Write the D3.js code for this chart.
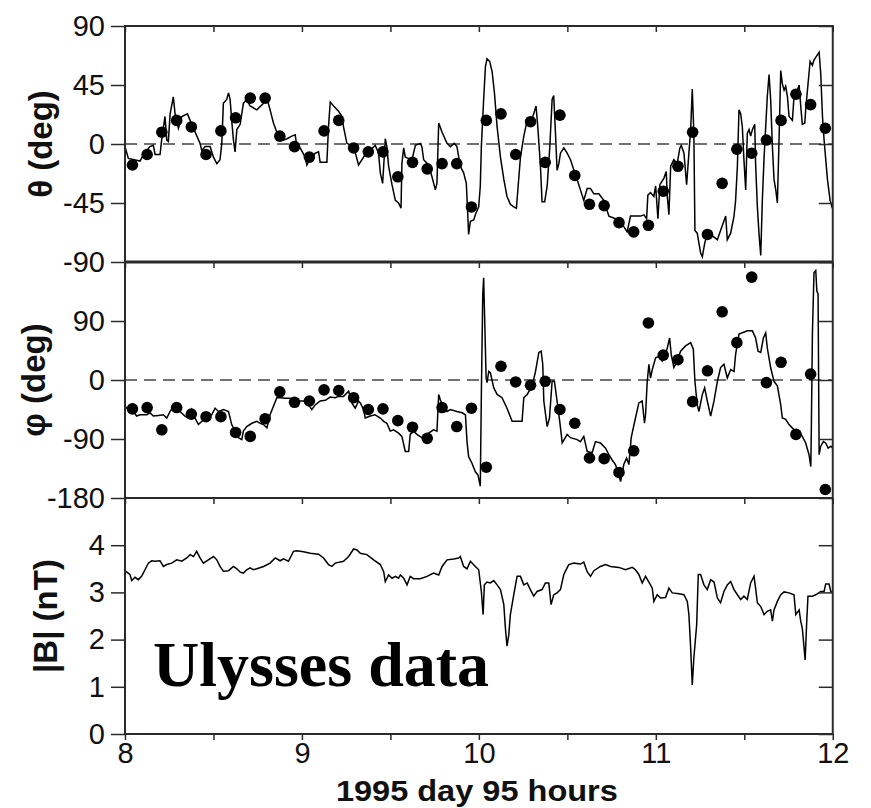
<!DOCTYPE html>
<html>
<head>
<meta charset="utf-8">
<script src="https://cdn.jsdelivr.net/npm/d3@7"></script>
<style>
  body { margin: 0; background: #fff; }
  svg { display: block; }
</style>
</head>
<body>
<svg id="chart" width="871" height="808"></svg>
<script>
// Ulysses magnetic field, 1995 day 95, 08-12 h
// High-resolution traces: [hour, value]
const thetaTrace = [
  [8.000,-2],[8.019,-11],[8.085,-13],[8.104,-8],[8.141,-2],[8.160,-1],[8.170,-8],[8.198,-8],[8.207,3],[8.226,21],
  [8.236,3],[8.245,2],[8.255,23],[8.273,36],[8.283,23],[8.302,12],[8.321,21],[8.353,23],[8.368,18],[8.387,12],
  [8.424,0.5],[8.434,-5],[8.453,-2],[8.481,-2],[8.500,-10],[8.519,-15],[8.537,-12],[8.547,0.5],[8.556,31],[8.575,34],
  [8.585,39],[8.594,34],[8.603,18],[8.613,3],[8.622,-6],[8.632,11],[8.651,15],[8.669,31],[8.688,34],[8.707,29],
  [8.745,26],[8.783,31],[8.802,35],[8.820,26],[8.839,16],[8.858,9],[8.877,6],[8.896,3],[8.915,4],[8.943,6],
  [8.962,7],[8.971,-2],[8.990,-3],[9.018,-10],[9.028,-16],[9.047,-11],[9.075,-7],[9.094,-6],[9.103,-14],[9.141,-14],
  [9.150,13],[9.160,32],[9.179,29],[9.207,25],[9.226,21],[9.235,13],[9.254,0.5],[9.292,-2],[9.320,-16],
  [9.358,-8],[9.386,-5],[9.414,-1],[9.433,-7],[9.443,-22],[9.456,-30],[9.462,-17],[9.471,4],[9.480,-2],[9.490,-17],
  [9.509,-31],[9.528,-43],[9.546,-45],[9.560,-49],[9.565,-15],[9.575,-3],[9.584,-10],[9.603,-11],[9.622,-12],[9.641,-1],
  [9.669,0.5],[9.678,-2],[9.688,-12],[9.716,-16],[9.735,-25],[9.754,-35],[9.763,-30],[9.773,16],[9.792,9],[9.820,0.5],
  [9.839,-2],[9.861,0.5],[9.876,-2],[9.895,-17],[9.914,-22],[9.929,-30],[9.937,-53],[9.942,-69],[9.952,-59],[9.971,-58],
  [9.980,-54],[9.999,-48],[10.008,-32],[10.014,-2],[10.027,34],[10.037,59],[10.046,65],[10.061,63],[10.075,55],[10.088,39],
  [10.103,13],[10.122,-10],[10.141,-27],[10.159,-40],[10.178,-46],[10.197,-48],[10.212,-49],[10.222,-32],[10.235,-10],[10.254,6],
  [10.273,18],[10.291,16],[10.310,23],[10.323,29],[10.333,13],[10.348,-17],[10.357,-44],[10.372,-44],[10.386,-32],[10.401,-2],
  [10.414,34],[10.423,37],[10.433,8],[10.442,-20],[10.452,-15],[10.461,-7],[10.480,-3],[10.499,-7],[10.518,-12],[10.537,-20],
  [10.555,-27],[10.574,-35],[10.593,-43],[10.612,-34],[10.631,-34],[10.650,-38],[10.678,-38],[10.706,-43],[10.735,-55],
  [10.772,-57],[10.801,-59],[10.819,-63],[10.838,-67],[10.857,-55],[10.885,-55],[10.914,-55],[10.933,-54],[10.948,-57],[10.955,-39],
  [10.970,-37],[10.989,-40],[10.999,-32],[11.012,-57],[11.023,-31],[11.046,-26],[11.059,-21],[11.065,-40],[11.074,-54],[11.084,-17],
  [11.102,-12],[11.121,-15],[11.136,-3],[11.144,-1],[11.159,-7],[11.174,-31],[11.187,-7],[11.197,11],[11.206,42],[11.215,8],
  [11.221,-66],[11.234,-68],[11.253,-83],[11.263,-86],[11.276,-76],[11.291,-68],[11.310,-69],[11.329,-71],[11.348,-73],[11.366,-66],
  [11.395,-55],[11.404,-73],[11.423,-68],[11.442,-55],[11.451,-43],[11.461,-17],[11.470,26],[11.480,23],[11.489,13],[11.498,-12],
  [11.508,-35],[11.517,8],[11.527,11],[11.536,6],[11.546,11],[11.559,15],[11.564,-15],[11.574,-48],[11.583,-68],[11.593,-85],
  [11.602,-43],[11.612,-10],[11.630,36],[11.640,53],[11.649,34],[11.659,-2],[11.668,-27],[11.678,-35],[11.687,-45],[11.696,0.5],
  [11.706,56],[11.715,46],[11.725,41],[11.734,44],[11.744,36],[11.753,21],[11.772,18],[11.781,36],[11.800,41],[11.810,45],
  [11.819,29],[11.828,15],[11.842,16],[11.847,26],[11.857,41],[11.872,63],[11.885,60],[11.894,64],[11.913,68],[11.923,70],
  [11.932,54],[11.942,21],[11.951,3],[11.970,-27],[11.985,-43],[11.998,-49]
];

const phiTrace = [
  [8.000,-40],[8.019,-45],[8.047,-48],[8.066,-55],[8.085,-53],[8.123,-53],[8.141,-50],[8.160,-55],[8.189,-54],[8.217,-53],
  [8.236,-58],[8.255,-48],[8.273,-40],[8.311,-48],[8.339,-55],[8.358,-58],[8.377,-45],[8.396,-58],[8.415,-68],[8.434,-63],
  [8.462,-58],[8.490,-53],[8.509,-43],[8.528,-48],[8.556,-45],[8.585,-48],[8.594,-58],[8.603,-68],[8.622,-78],[8.641,-88],
  [8.660,-91],[8.669,-78],[8.688,-71],[8.717,-66],[8.745,-63],[8.764,-66],[8.783,-68],[8.802,-73],[8.820,-53],[8.839,-40],
  [8.858,-27],[8.877,-27],[8.905,-28],[8.934,-28],[8.971,-32],[9.009,-32],[9.037,-38],[9.056,-45],[9.075,-38],[9.103,-32],
  [9.132,-31],[9.160,-26],[9.188,-27],[9.207,-25],[9.235,-25],[9.264,-17],[9.282,-35],[9.301,-43],[9.320,-32],
  [9.330,-35],[9.348,-45],[9.358,-58],[9.386,-55],[9.414,-53],[9.443,-58],[9.462,-63],[9.480,-66],[9.499,-78],[9.518,-76],
  [9.546,-81],[9.565,-86],[9.584,-109],[9.603,-109],[9.612,-83],[9.631,-78],[9.650,-83],[9.678,-88],[9.697,-86],[9.716,-81],
  [9.744,-76],[9.763,-78],[9.773,-22],[9.782,-30],[9.801,-43],[9.820,-48],[9.839,-45],[9.876,-48],[9.905,-50],[9.924,-53],
  [9.933,-94],[9.942,-117],[9.961,-127],[9.980,-140],[9.995,-145],[10.008,-162],[10.014,-22],[10.022,131],[10.027,156],[10.033,90],
  [10.041,3],[10.046,-4],[10.056,13],[10.065,11],[10.084,-12],[10.103,-22],[10.131,-27],[10.159,-43],[10.188,-63],[10.244,-63],
  [10.254,-27],[10.273,-22],[10.301,-9],[10.320,13],[10.339,42],[10.352,44],[10.361,24],[10.367,-32],[10.386,-71],[10.399,-58],
  [10.414,-2],[10.427,-2],[10.442,-32],[10.457,-63],[10.471,-96],[10.499,-83],[10.518,-88],[10.555,-91],[10.574,-94],[10.593,-86],
  [10.612,-109],[10.640,-111],[10.659,-94],[10.687,-96],[10.716,-104],[10.735,-114],
  [10.753,-122],[10.772,-129],[10.791,-145],[10.801,-155],[10.819,-129],[10.835,-119],[10.848,-129],[10.861,-88],[10.885,-58],[10.904,-35],
  [10.923,-32],[10.936,-66],[10.942,-53],[10.951,-4],[10.961,24],[10.970,3],[10.980,16],[10.999,34],[11.017,36],[11.036,29],
  [11.055,39],[11.065,49],[11.078,64],[11.087,39],[11.102,19],[11.121,29],[11.140,44],[11.168,52],[11.197,57],[11.212,47],
  [11.221,-2],[11.234,-38],[11.244,-48],[11.263,-22],[11.276,-12],[11.291,-32],[11.310,-55],[11.329,-32],[11.348,-2],[11.366,19],
  [11.385,24],[11.404,3],[11.423,16],[11.442,13],[11.451,39],[11.470,70],[11.489,72],[11.517,75],[11.546,75],[11.564,64],
  [11.578,44],[11.593,42],[11.608,64],[11.621,72],[11.630,49],[11.649,19],[11.668,-2],[11.687,-9],[11.706,-38],[11.715,-58],
  [11.734,-60],[11.753,-68],[11.781,-76],[11.810,-78],[11.828,-86],[11.847,-96],[11.866,-114],[11.876,-132],[11.879,-73],[11.885,70],
  [11.894,164],[11.904,167],[11.910,136],[11.917,131],[11.923,-114],[11.932,-101],[11.947,-94],[11.960,-96],[11.974,-104],[11.989,-101],
  [12.000,-104]
];

const bTrace = [
  [8.000,3.46],[8.028,3.38],[8.038,3.25],[8.057,3.32],[8.075,3.27],[8.094,3.34],[8.113,3.48],[8.132,3.62],[8.151,3.67],[8.170,3.66],
  [8.198,3.67],[8.217,3.55],[8.236,3.59],[8.264,3.62],[8.292,3.69],[8.321,3.66],[8.349,3.73],[8.368,3.80],[8.387,3.76],[8.405,3.87],
  [8.424,3.73],[8.443,3.62],[8.471,3.69],[8.500,3.76],[8.519,3.69],[8.537,3.55],[8.556,3.45],[8.585,3.46],[8.613,3.55],[8.632,3.50],
  [8.651,3.43],[8.669,3.41],[8.688,3.48],[8.707,3.52],[8.726,3.48],[8.745,3.50],[8.783,3.55],[8.820,3.62],[8.849,3.73],[8.877,3.67],
  [8.896,3.71],[8.924,3.66],[8.952,3.87],[8.971,3.88],[9.009,3.86],[9.047,3.83],[9.094,3.81],[9.122,3.73],[9.150,3.59],[9.169,3.55],
  [9.188,3.62],[9.235,3.66],[9.264,3.76],[9.292,3.92],[9.311,3.90],[9.330,3.83],
  [9.367,3.80],[9.405,3.69],[9.443,3.59],[9.462,3.44],[9.471,3.23],[9.490,3.37],[9.509,3.30],[9.528,3.34],[9.546,3.30],[9.556,3.37],
  [9.575,3.30],[9.594,3.16],[9.612,3.34],[9.631,3.29],[9.669,3.29],[9.707,3.34],[9.744,3.41],[9.773,3.37],[9.792,3.55],[9.820,3.69],
  [9.858,3.71],[9.886,3.73],[9.895,3.76],[9.914,3.55],[9.933,3.50],[9.952,3.66],[9.980,3.55],[9.999,3.48],[10.014,3.02],[10.024,2.53],
  [10.031,3.16],[10.046,3.22],[10.065,3.20],[10.084,3.25],[10.103,3.16],[10.122,3.06],[10.141,2.74],[10.150,2.24],[10.159,1.86],[10.169,2.10],
  [10.178,2.53],[10.197,2.95],[10.216,3.34],[10.235,3.34],[10.254,3.16],[10.273,3.20],[10.291,3.06],[10.310,2.92],[10.329,3.02],[10.357,3.06],
  [10.376,3.20],[10.395,3.20],[10.408,2.74],[10.423,2.95],[10.442,2.99],[10.461,3.06],[10.480,3.38],[10.508,3.59],[10.537,3.62],[10.574,3.60],
  [10.593,3.64],[10.612,3.44],[10.631,3.34],[10.650,3.46],[10.687,3.55],[10.716,3.59],[10.744,3.55],
  [10.791,3.53],[10.829,3.48],[10.867,3.53],[10.885,3.48],[10.904,3.38],[10.923,3.20],[10.942,3.34],[10.961,3.22],[10.980,3.09],[10.989,2.81],
  [11.008,2.95],[11.027,2.88],[11.055,2.89],[11.074,3.09],[11.093,2.99],[11.131,2.97],[11.159,2.95],[11.178,2.81],[11.187,2.53],[11.197,1.82],
  [11.206,1.04],[11.215,1.61],[11.231,2.32],[11.240,3.38],[11.253,3.38],[11.272,3.16],[11.291,3.06],[11.310,3.27],[11.329,3.22],[11.348,2.88],
  [11.366,2.78],[11.385,3.02],[11.404,3.16],[11.423,3.23],[11.442,3.06],[11.461,2.95],[11.480,2.85],[11.498,2.92],[11.517,2.85],[11.536,3.20],
  [11.555,3.34],[11.564,3.09],[11.574,2.78],[11.593,2.70],[11.612,2.53],[11.630,2.60],[11.649,2.63],[11.659,2.39],[11.668,2.63],[11.687,2.81],
  [11.706,2.95],[11.725,3.01],[11.753,2.99],[11.781,2.95],[11.791,2.53],[11.810,2.63],[11.819,2.39],[11.828,2.24],[11.838,1.82],[11.844,1.57],
  [11.853,2.39],[11.860,2.92],[11.885,2.92],[11.904,2.95],[11.932,3.02],[11.951,3.02],[11.960,3.18],[11.979,3.18],[11.989,3.02],[12.000,2.99]
];

// 5-minute averages (dots)
const dotHours = [
  8.042, 8.125, 8.208, 8.292, 8.375, 8.458, 8.542, 8.625, 8.708, 8.792, 8.875, 8.958,
  9.042, 9.125, 9.208, 9.292, 9.375, 9.458, 9.542, 9.625, 9.708, 9.792, 9.875, 9.958,
  10.042, 10.125, 10.208, 10.292, 10.375, 10.458, 10.542, 10.625, 10.708, 10.792, 10.875, 10.958,
  11.042, 11.125, 11.208, 11.292, 11.375, 11.458, 11.542, 11.625, 11.708, 11.792, 11.875, 11.958
];
const thetaDots = [
  -16, -8, 9, 18, 13, -8, 10, 20, 35, 35, 6, -2,
  -10, 10, 18, -3, -6, -6, -25, -14, -19, -15, -15, -48,
  18, 23, -8, 17, -14, 22, -24, -46, -47, -60, -67, -62,
  -36, -17, 9, -69, -30, -4, -7, 3, 18, 38, 30, 12
];
const phiDots = [
  -44, -42, -76, -42, -52, -56, -56, -80, -86, -59, -18, -34,
  -32, -15, -16, -27, -45, -44, -62, -72, -89, -42, -71, -43,
  -133, 21, -3, -8, -2, -45, -66, -119, -120, -141, -108, 87,
  38, 31, -33, 14, 104, 57, 157, -4, 27, -83, 9, -167
];

// Axis ticks and labels
const hourTicks = [8, 9, 10, 11, 12];
const halfHourTicks = [8, 8.5, 9, 9.5, 10, 10.5, 11, 11.5, 12];
const thetaTicks = [90, 45, 0, -45, -90];
const phiTicks = [90, 0, -90, -180];
const bTicks = [0, 1, 2, 3, 4];
const xTitle = "1995 day 95 hours";
const panelTitles = ["θ (deg)", "φ (deg)", "|B| (nT)"];
const annotation = "Ulysses data";

// ---- layout ----
const svg = d3.select("#chart");
const left = 125, right = 832.75;
const panelTop = [26, 262, 498];
const panelH = 236;
const bottom = panelTop[2] + panelH;

const x = d3.scaleLinear().domain([8, 12]).range([left, right]);

const panels = [
  { y: d3.scaleLinear().domain([-90, 90]).range([panelTop[0] + panelH, panelTop[0]]),
    ticks: thetaTicks, trace: thetaTrace, dots: thetaDots, zero: true,
    title: panelTitles[0], titleX: 40 },
  { y: d3.scaleLinear().domain([-180, 180]).range([panelTop[1] + panelH, panelTop[1]]),
    ticks: phiTicks, trace: phiTrace, dots: phiDots, zero: true,
    title: panelTitles[1], titleX: 33 },
  { y: d3.scaleLinear().domain([0, 5]).range([panelTop[2] + panelH, panelTop[2]]),
    ticks: bTicks, trace: bTrace, dots: null, zero: false,
    title: panelTitles[2], titleX: 45 }
];

const INK = "#111";
const FRAME = "#2a2a2a";
const plain = d => String(d);   // ASCII hyphen for negatives

svg.append("defs").append("clipPath").attr("id", "plotClip")
  .append("rect").attr("x", left).attr("y", panelTop[0])
  .attr("width", right - left).attr("height", bottom - panelTop[0]);

panels.forEach((p, i) => {
  const top = panelTop[i];
  const g = svg.append("g").attr("class", "panel");

  // zero reference
  if (p.zero) {
    g.append("line")
      .attr("x1", left).attr("x2", right)
      .attr("y1", p.y(0)).attr("y2", p.y(0))
      .attr("stroke", "#444").attr("stroke-width", 1.5)
      .attr("stroke-dasharray", "12,7");
  }

  // trace
  const line = d3.line().x(d => x(d[0])).y(d => p.y(d[1]));
  g.append("path")
    .datum(p.trace)
    .attr("clip-path", "url(#plotClip)")
    .attr("d", line)
    .attr("fill", "none")
    .attr("stroke", "#000")
    .attr("stroke-width", 1.5)
    .attr("stroke-linejoin", "miter");

  // 5-minute averages
  if (p.dots) {
    g.selectAll("circle.dot")
      .data(dotHours.map((h, k) => [h, p.dots[k]]))
      .join("circle")
      .attr("class", "dot")
      .attr("cx", d => x(d[0]))
      .attr("cy", d => p.y(d[1]))
      .attr("r", 5.8)
      .attr("fill", "#000");
  }

  // left axis with labels
  const yAxis = d3.axisLeft(p.y).tickValues(p.ticks).tickSize(14).tickPadding(6).tickFormat(plain);
  const ga = svg.append("g").attr("transform", `translate(${left},0)`).call(yAxis);
  ga.select(".domain").remove();
  ga.selectAll(".tick line").attr("stroke", FRAME).attr("stroke-width", 1.5);
  ga.selectAll(".tick text")
    .attr("fill", INK)
    .style("font-family", "'Liberation Sans', Arial, sans-serif")
    .style("font-size", "29px");

  // right inward ticks
  const yAxisR = d3.axisLeft(p.y).tickValues(p.ticks).tickSize(14).tickFormat("");
  const gr = svg.append("g").attr("transform", `translate(${right},0)`).call(yAxisR);
  gr.select(".domain").remove();
  gr.selectAll(".tick line").attr("stroke", FRAME).attr("stroke-width", 1.5);

  // top inward half-hour ticks
  const xTop = d3.axisBottom(x).tickValues(halfHourTicks).tickSize(6).tickFormat("");
  const gt = svg.append("g").attr("transform", `translate(0,${top})`).call(xTop);
  gt.select(".domain").remove();
  gt.selectAll(".tick line").attr("stroke", FRAME).attr("stroke-width", 1.5);

  // panel title
  svg.append("text")
    .attr("transform", `translate(${p.titleX},${top + panelH / 2}) rotate(-90)`)
    .attr("text-anchor", "middle")
    .attr("dominant-baseline", "central")
    .attr("fill", INK)
    .style("font-family", "'Liberation Sans', Arial, sans-serif")
    .style("font-weight", "bold")
    .style("font-size", "33px")
    .text(p.title);
});

// frame: outer box and panel separators
svg.append("rect")
  .attr("x", left).attr("y", panelTop[0])
  .attr("width", right - left).attr("height", bottom - panelTop[0])
  .attr("fill", "none").attr("stroke", FRAME).attr("stroke-width", 2);
svg.append("line")
  .attr("x1", left).attr("x2", right)
  .attr("y1", panelTop[1]).attr("y2", panelTop[1])
  .attr("stroke", FRAME).attr("stroke-width", 3);
svg.append("line")
  .attr("x1", left).attr("x2", right)
  .attr("y1", panelTop[2]).attr("y2", panelTop[2])
  .attr("stroke", FRAME).attr("stroke-width", 2);

// bottom time axis
const xAxis = d3.axisBottom(x)
  .tickValues(halfHourTicks)
  .tickSize(6).tickPadding(2)
  .tickFormat(d => hourTicks.includes(d) ? plain(d) : "");
const gx = svg.append("g").attr("transform", `translate(0,${bottom})`).call(xAxis);
gx.select(".domain").remove();
gx.selectAll(".tick line").attr("stroke", FRAME).attr("stroke-width", 1.5);
gx.selectAll(".tick text")
  .attr("fill", INK)
  .style("font-family", "'Liberation Sans', Arial, sans-serif")
  .style("font-size", "29px");

svg.append("text")
  .attr("x", (left + right) / 2 - 2)
  .attr("y", 801)
  .attr("text-anchor", "middle")
  .attr("textLength", 282)
  .attr("lengthAdjust", "spacingAndGlyphs")
  .attr("fill", INK)
  .style("font-family", "'Liberation Sans', Arial, sans-serif")
  .style("font-weight", "bold")
  .style("font-size", "30px")
  .text(xTitle);

// annotation
svg.append("text")
  .attr("x", 153)
  .attr("y", 686)
  .attr("fill", "#000")
  .style("font-family", "'Liberation Serif', 'Times New Roman', serif")
  .style("font-weight", "bold")
  .style("font-size", "64px")
  .text(annotation);
</script>
</body>
</html>
